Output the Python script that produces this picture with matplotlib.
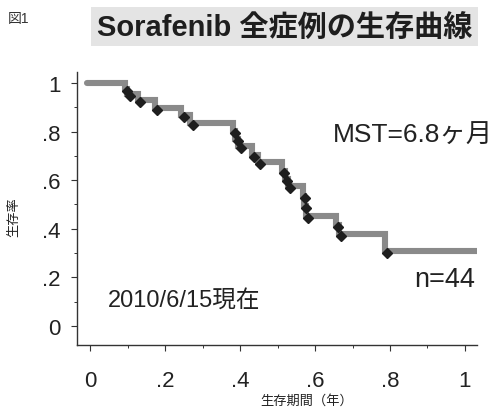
import matplotlib
matplotlib.use("Agg")
import matplotlib.pyplot as plt
from matplotlib.ticker import MultipleLocator

plt.rcParams['font.family'] = ['Liberation Sans', 'Noto Sans CJK JP', 'DejaVu Sans']

# --- dados ---
tempo = [0.093, 0.099, 0.128, 0.173, 0.243, 0.267, 0.381, 0.387, 0.395, 0.432,
         0.448, 0.512, 0.520, 0.528, 0.568, 0.571, 0.576, 0.656, 0.664, 0.787]
sobrevida = [0.975, 0.955, 0.930, 0.897, 0.868, 0.835, 0.802, 0.770, 0.741, 0.704,
             0.675, 0.638, 0.605, 0.576, 0.535, 0.494, 0.453, 0.416, 0.379, 0.309]
t_fim = 1.032

x_ticks = [0, 0.2, 0.4, 0.6, 0.8, 1.0]
x_labels = ["0", ".2", ".4", ".6", ".8", "1"]
y_ticks = [0, 0.2, 0.4, 0.6, 0.8, 1.0]
y_labels = ["0", ".2", ".4", ".6", ".8", "1"]

# --- figura ---
fig = plt.figure(figsize=(5.01, 4.10), dpi=100)
ax = fig.add_axes([0.154, 0.156, 0.798, 0.666])

xs = [-0.008] + tempo + [t_fim]
ys = [1.0] + sobrevida + [sobrevida[-1]]
ax.plot(xs, ys, drawstyle="steps-post", color="#8a8a8a", lw=4.4,
        solid_capstyle="round", solid_joinstyle="miter", zorder=2)
ax.plot([t + 0.006 for t in tempo], [s - 0.008 for s in sobrevida], "D",
        color="#1e1e1e", ms=4.8, zorder=3)

ax.set_xlim(-0.035, 1.032)
ax.set_ylim(-0.078, 1.045)
for s in ["top", "right"]:
    ax.spines[s].set_visible(False)
for s in ["left", "bottom"]:
    ax.spines[s].set_color("#333333")
    ax.spines[s].set_linewidth(1.0)

ax.set_xticks(x_ticks)
ax.set_xticklabels(x_labels)
ax.set_yticks(y_ticks)
ax.set_yticklabels(y_labels)
ax.xaxis.set_minor_locator(MultipleLocator(0.1))
ax.yaxis.set_minor_locator(MultipleLocator(0.1))
ax.tick_params(axis="both", which="major", length=4, width=0.8, colors="#333333",
               labelsize=16, labelcolor="#222222")
ax.tick_params(axis="both", which="minor", length=2.5, width=0.7, colors="#333333")
ax.tick_params(axis="x", which="major", pad=14)
ax.tick_params(axis="y", which="major", pad=8)

ax.set_ylabel("生存率", fontsize=9.5, color="#222222", labelpad=10)
ax.yaxis.set_label_coords(-0.142, 0.473)
ax.set_xlabel("生存期間（年）", fontsize=9.5, color="#222222", labelpad=2)
ax.xaxis.set_label_coords(0.573, -0.178)

ax.text(0.648, 0.757, "MST=6.8ヶ月", fontsize=19, color="#222222", va="baseline")
ax.text(1.027, 0.165, "n=44", fontsize=19.5, color="#222222", ha="right", va="baseline")
ax.text(0.048, 0.082, "2010/6/15現在", fontsize=17, color="#222222", va="baseline")

fig.text(0.016, 0.945, "図1", fontsize=10, color="#333333")
fig.text(0.568, 0.932, "Sorafenib 全症例の生存曲線", fontsize=21, fontweight="bold",
         color="#1e1e1e", ha="center", va="center",
         bbox=dict(facecolor="#e4e4e4", edgecolor="none", pad=4))

fig.savefig("out.png", dpi=100)
